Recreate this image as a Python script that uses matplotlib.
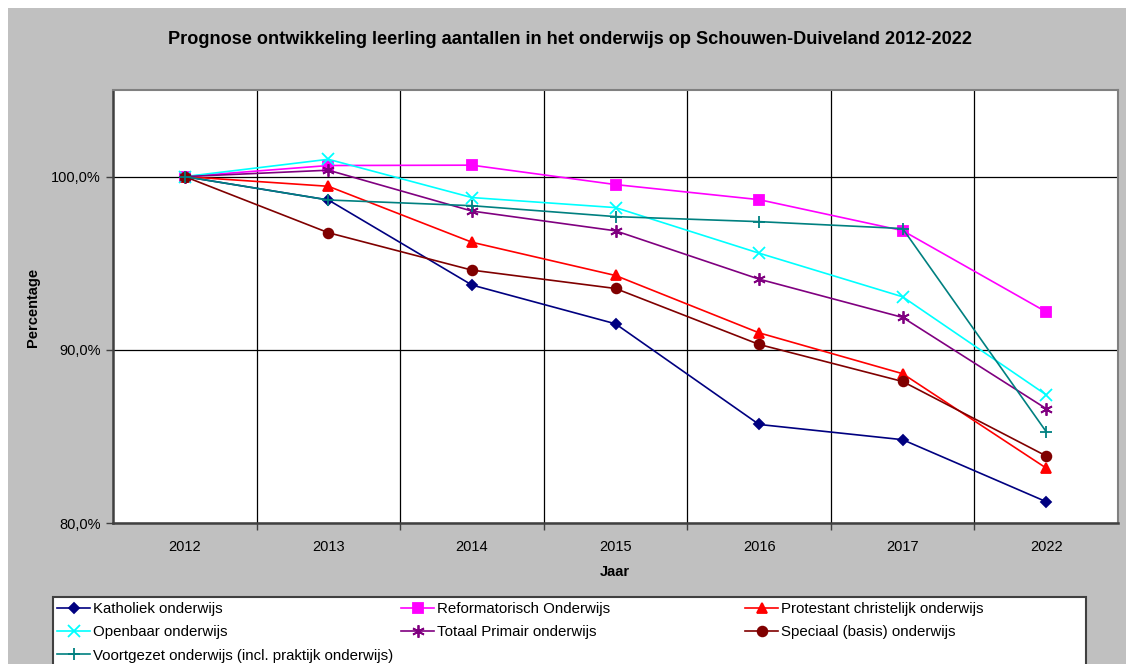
import matplotlib
matplotlib.use('Agg')
import matplotlib.pyplot as plt
from matplotlib.patches import Rectangle
from matplotlib.ticker import FuncFormatter

plt.rcParams['font.family'] = ['Liberation Sans', 'DejaVu Sans']

jaren = ['2012', '2013', '2014', '2015', '2016', '2017', '2022']

katholiek = [100.0, 98.65, 93.74, 91.5, 85.69, 84.81, 81.23]
reformatorisch = [100.0, 100.64, 100.66, 99.54, 98.67, 96.88, 92.19]
protestant = [100.0, 99.44, 96.21, 94.29, 90.98, 88.62, 83.17]
openbaar = [100.0, 101.0, 98.79, 98.21, 95.58, 93.06, 87.4]
totaal = [100.0, 100.37, 98.01, 96.87, 94.08, 91.87, 86.6]
speciaal = [100.0, 96.76, 94.6, 93.54, 90.31, 88.17, 83.87]
voortgezet = [100.0, 98.65, 98.32, 97.69, 97.4, 97.0, 85.27]

W, H = 1126, 664
fig = plt.figure(figsize=(W / 100, H / 100), dpi=100, facecolor='white')
# grey chart area with a thin white margin top/left
fig.patches.append(Rectangle((8 / W, 0), 1, 1 - 8 / H, transform=fig.transFigure,
                             facecolor='#c0c0c0', edgecolor='none', zorder=-10))

ax = fig.add_axes([113 / W, 1 - 523 / H, (1118 - 113) / W, (523 - 90) / H])
ax.set_facecolor('white')

x = range(len(jaren))
series = [
    ('Katholiek onderwijs', katholiek, '#000080', 'D', 5),
    ('Reformatorisch Onderwijs', reformatorisch, '#ff00ff', 's', 7),
    ('Protestant christelijk onderwijs', protestant, '#ff0000', '^', 7),
    ('Openbaar onderwijs', openbaar, '#00ffff', 'x', 8),
    ('Totaal Primair onderwijs', totaal, '#800080', (6, 2, 0), 9),
    ('Speciaal (basis) onderwijs', speciaal, '#800000', 'o', 7),
    ('Voortgezet onderwijs (incl. praktijk onderwijs)', voortgezet, '#008080', '+', 9),
]
handles = {}
for name, vals, col, mk, ms in series:
    h, = ax.plot(x, vals, color=col, lw=1.2, marker=mk, markersize=ms,
                 markeredgewidth=1.3, label=name, zorder=3)
    handles[name] = h

ax.set_xlim(-0.5, len(jaren) - 0.5)
ax.set_ylim(80, 105)
ax.set_yticks([80, 90, 100])
ax.yaxis.set_major_formatter(FuncFormatter(lambda v, p: f'{v:.1f}%'.replace('.', ',')))
ax.set_xticks(list(x))
ax.set_xticklabels(jaren)
ax.set_xticks([i + 0.5 for i in range(len(jaren) - 1)], minor=True)
ax.tick_params(axis='x', which='major', length=0, pad=12, labelsize=10.5)
ax.tick_params(axis='x', which='minor', length=5, width=1, color='#404040', direction='out')
ax.tick_params(axis='y', length=5, width=1, color='#404040', labelsize=10.5, pad=4)

ax.grid(True, axis='y', which='major', color='black', lw=0.9)
ax.grid(True, axis='x', which='minor', color='black', lw=0.9)
ax.set_axisbelow(True)

for s in ['top', 'right']:
    ax.spines[s].set_color('#808080')
    ax.spines[s].set_linewidth(1.5)
for s in ['left', 'bottom']:
    ax.spines[s].set_color('#404040')
    ax.spines[s].set_linewidth(1.8)

fig.text(570 / W, 1 - 39 / H, 'Prognose ontwikkeling leerling aantallen in het onderwijs op Schouwen-Duiveland 2012-2022',
         ha='center', va='center', fontsize=13.1, fontweight='bold')
fig.text(33 / W, 1 - 307 / H, 'Percentage', rotation=90, ha='center', va='center',
         fontsize=10.5, fontweight='bold')
fig.text(615 / W, 1 - 572 / H, 'Jaar', ha='center', va='center', fontsize=10.5, fontweight='bold')

# legend box (runs off the bottom edge)
fig.patches.append(Rectangle((53 / W, -0.05), (1086 - 53) / W, 0.05 + 1 - 597 / H,
                             transform=fig.transFigure, facecolor='white',
                             edgecolor='#404040', lw=1.5, zorder=1))
kolommen = [
    (57, ['Katholiek onderwijs', 'Openbaar onderwijs',
          'Voortgezet onderwijs (incl. praktijk onderwijs)']),
    (401, ['Reformatorisch Onderwijs', 'Totaal Primair onderwijs']),
    (745, ['Protestant christelijk onderwijs', 'Speciaal (basis) onderwijs']),
]
for x0, namen in kolommen:
    leg = fig.legend([handles[n] for n in namen], namen, loc='upper left',
                     bbox_to_anchor=(x0 / W, 1 - 602 / H), frameon=False,
                     fontsize=10.8, handlelength=2.2, handletextpad=0.2,
                     labelspacing=0.62, borderpad=0, borderaxespad=0)
    leg.set_zorder(2)

fig.savefig('out.png', dpi=100, facecolor=fig.get_facecolor())
